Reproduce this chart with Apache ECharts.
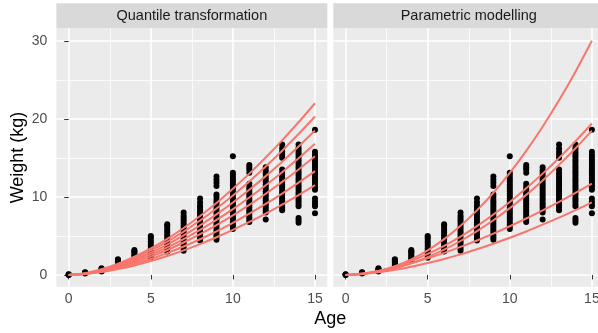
<!DOCTYPE html>
<html><head><meta charset="utf-8">
<script src="https://cdn.jsdelivr.net/npm/echarts@6/dist/echarts.min.js"></script>
<style>html,body{margin:0;padding:0;background:#fff}#c{width:598px;height:333px}</style>
</head><body><div id="c"></div>
<script>
// ---- data ----
const ages = [0,1,2,3,4,5,6,7,8,9,10,11,12,13,14,15];
const panelTitles = ['Quantile transformation', 'Parametric modelling'];
const xMajor = [0,5,10,15];
const xMinor = [2.5,7.5,12.5];
const yMajor = [0,10,20,30];
const yMinor = [5,15,25];

// observed weights, one list per age (same data in both panels)
const pointWeights = [
  [0.00,0.03,0.06,0.10],
  [0.20,0.25,0.30,0.35],
  [0.45,0.55,0.65,0.75,0.85],
  [1.30,1.45,1.60,1.75,1.90,2.00],
  [1.90,2.10,2.30,2.50,2.70,2.90,3.05,3.20],
  [2.20,2.50,2.80,3.10,3.40,3.70,4.00,4.30,4.60,4.85,5.00],
  [3.00,3.30,3.60,3.90,4.20,4.50,4.80,5.10,5.40,5.70,6.00,6.30,6.50],
  [3.10,3.40,3.70,4.00,4.30,4.60,4.90,5.20,5.50,5.80,6.10,6.40,6.70,7.00,7.30,7.60,8.00],
  [4.40,4.70,5.00,5.30,5.60,5.90,6.20,6.50,6.80,7.10,7.40,7.70,8.00,8.30,8.60,8.90,9.30,9.80],
  [4.50,4.80,5.10,5.40,5.70,6.00,6.30,6.60,6.90,7.20,7.50,7.80,8.10,8.40,8.70,9.00,9.30,9.60,10.00,10.30,11.40,11.80,12.20,12.60],
  [5.90,6.20,6.50,6.80,7.10,7.40,7.70,8.00,8.30,8.60,8.90,9.20,9.50,9.80,10.10,10.40,10.70,11.00,11.30,11.60,11.90,12.20,12.50,12.80,13.10,15.20],
  [6.80,7.10,7.40,7.70,8.00,8.30,8.60,8.90,9.20,9.50,9.80,10.10,10.40,10.70,11.00,11.30,11.70,13.10,13.50,13.80,14.10],
  [7.10,8.00,8.30,8.60,8.90,9.20,9.50,9.80,10.10,10.40,10.70,11.00,11.30,11.60,11.90,12.20,12.50,12.80,13.10,13.40,13.80],
  [8.30,8.60,8.90,9.20,9.50,9.80,10.10,10.40,10.70,11.00,11.30,11.60,11.90,12.20,12.50,12.80,13.10,13.50,15.00,15.40,15.80,16.20,16.70],
  [6.70,7.00,7.30,8.80,9.10,9.40,9.70,10.00,10.30,10.60,10.90,11.20,11.50,11.80,12.10,12.40,12.70,13.00,13.30,13.60,13.90,14.20,14.50,14.80,15.10,15.40,15.70,16.00,16.30,16.70],
  [7.90,8.80,9.10,9.40,9.80,10.90,11.20,11.50,11.80,12.10,12.40,12.70,13.00,13.30,13.60,13.90,14.20,14.50,14.80,15.10,15.40,15.80,18.60]
];

// fitted centile curves, values at each age
const quantileCurves = [
  [0,0.22,0.72,1.43,2.33,3.40,4.63,6.02,7.56,9.23,11.04,12.98,15.05,17.25,19.56,22.0],
  [0,0.20,0.66,1.32,2.15,3.14,4.28,5.56,6.97,8.52,10.19,11.98,13.89,15.92,18.05,20.3],
  [0,0.19,0.60,1.20,1.96,2.86,3.90,5.06,6.35,7.76,9.29,10.92,12.66,14.51,16.45,18.5],
  [0,0.17,0.55,1.09,1.78,2.60,3.54,4.60,5.77,7.05,8.43,9.92,11.50,13.17,14.94,16.8],
  [0,0.15,0.49,0.98,1.61,2.35,3.20,4.16,5.22,6.38,7.63,8.97,10.40,11.92,13.52,15.2],
  [0,0.13,0.43,0.86,1.41,2.05,2.80,3.64,4.57,5.58,6.68,7.85,9.10,10.43,11.83,13.3],
  [0,0.12,0.37,0.75,1.22,1.78,2.42,3.15,3.95,4.83,5.77,6.79,7.87,9.02,10.23,11.5]
];
const parametricCurves = [
  [0,0.12,0.48,1.11,2.00,3.16,4.59,6.29,8.27,10.53,13.07,15.89,18.99,22.37,26.04,30.0],
  [0,0.15,0.52,1.07,1.80,2.69,3.73,4.92,6.26,7.74,9.35,11.10,12.98,14.99,17.13,19.4],
  [0,0.11,0.40,0.87,1.50,2.29,3.24,4.35,5.61,7.01,8.56,10.26,12.11,14.10,16.23,18.5],
  [0,0.18,0.51,0.97,1.51,2.13,2.83,3.59,4.42,5.30,6.24,7.23,8.28,9.37,10.51,11.7],
  [0,0.11,0.33,0.65,1.05,1.52,2.05,2.64,3.30,4.00,4.76,5.57,6.44,7.34,8.30,9.3]
];

// ---- chart ----
const FONT = 'Liberation Sans, Arial, sans-serif';
const X_MIN = -0.75, X_MAX = 15.75, Y_MIN = -1.505, Y_MAX = 31.6;
const panels = [
  {left: 56.4, top: 28.3, width: 270.9, height: 258.4},
  {left: 333.3, top: 28.3, width: 270.9, height: 258.4}
];
const RED = '#F8766D';

const grids = panels.map(p => ({
  left: p.left, top: p.top, width: p.width, height: p.height,
  show: true, backgroundColor: '#EBEBEB', borderWidth: 0,
  containLabel: false, outerBoundsMode: 'none'
}));

const xAxes = [], yAxes = [];
panels.forEach((p, g) => {
  xAxes.push({
    type: 'value', gridIndex: g, min: X_MIN, max: X_MAX, position: 'bottom',
    axisLine: {show: false},
    axisTick: {show: true, length: 4.5, customValues: xMajor, lineStyle: {color: '#333333', width: 1}},
    axisLabel: {show: true, margin: 5, customValues: xMajor, color: '#4D4D4D', fontSize: 14, fontFamily: FONT},
    splitLine: {show: true, lineStyle: {color: '#FFFFFF', width: 1.6}}
  });
  xAxes.push({
    type: 'value', gridIndex: g, min: X_MIN, max: X_MAX, position: 'bottom',
    axisLine: {show: false},
    axisTick: {show: false, customValues: xMinor},
    axisLabel: {show: false, customValues: xMinor},
    splitLine: {show: true, lineStyle: {color: '#FFFFFF', width: 0.8}}
  });
  yAxes.push({
    type: 'value', gridIndex: g, min: Y_MIN, max: Y_MAX, position: 'left',
    axisLine: {show: false},
    axisTick: {show: g === 0, length: 4.5, customValues: yMajor, lineStyle: {color: '#333333', width: 1}},
    axisLabel: {show: g === 0, margin: 9, customValues: yMajor, color: '#4D4D4D', fontSize: 14, fontFamily: FONT},
    splitLine: {show: true, lineStyle: {color: '#FFFFFF', width: 1.6}},
    name: g === 0 ? 'Weight (kg)' : '',
    nameLocation: 'middle', nameGap: 29,
    nameTextStyle: {color: '#000000', fontSize: 18, fontFamily: FONT}
  });
  yAxes.push({
    type: 'value', gridIndex: g, min: Y_MIN, max: Y_MAX, position: 'left',
    axisLine: {show: false},
    axisTick: {show: false, customValues: yMinor},
    axisLabel: {show: false, customValues: yMinor},
    splitLine: {show: true, lineStyle: {color: '#FFFFFF', width: 0.8}}
  });
});

const scatterData = [];
ages.forEach((a, i) => pointWeights[i].forEach(w => scatterData.push([a, w])));

const series = [];
[quantileCurves, parametricCurves].forEach((curves, g) => {
  series.push({
    type: 'scatter', xAxisIndex: g * 2, yAxisIndex: g * 2,
    data: scatterData, symbolSize: 6, itemStyle: {color: '#000000', opacity: 1},
    z: 2, silent: true, animation: false
  });
  curves.forEach(c => series.push({
    type: 'line', xAxisIndex: g * 2, yAxisIndex: g * 2,
    data: ages.map((a, i) => [a, c[i]]), smooth: 0.3, showSymbol: false,
    lineStyle: {color: RED, width: 2}, itemStyle: {color: RED},
    z: 3, silent: true, animation: false
  }));
});

const graphics = [];
panels.forEach((p, g) => {
  graphics.push({type: 'rect', left: p.left, top: 3.3, shape: {width: p.width, height: 25}, style: {fill: '#D9D9D9'}, silent: true});
  graphics.push({type: 'text', x: p.left + p.width / 2, y: 3.3 + 12.5,
    style: {text: panelTitles[g], fill: '#1A1A1A', fontSize: 14.5, fontFamily: FONT, align: 'center', verticalAlign: 'middle'}, silent: true});
});
graphics.push({type: 'text', x: 330.3, y: 319, style: {text: 'Age', fill: '#000000', fontSize: 18, fontFamily: FONT, align: 'center', verticalAlign: 'middle'}, silent: true});

const chart = echarts.init(document.getElementById('c'), null, {renderer: 'canvas'});
chart.setOption({
  animation: false,
  backgroundColor: '#FFFFFF',
  grid: grids,
  xAxis: xAxes,
  yAxis: yAxes,
  series: series,
  graphic: graphics
});
</script></body></html>
